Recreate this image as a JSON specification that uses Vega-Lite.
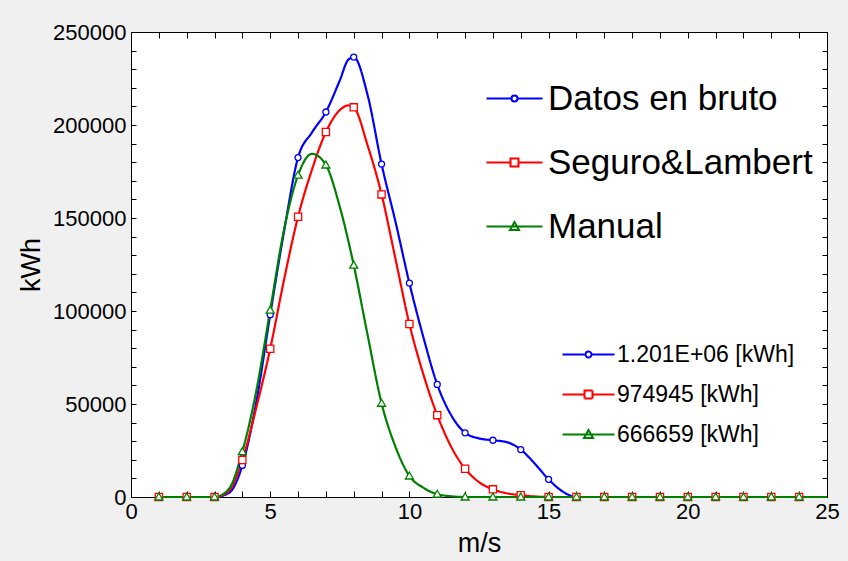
{
  "$schema": "https://vega.github.io/schema/vega-lite/v6.json",
  "autosize": "none",
  "width": 696,
  "height": 465,
  "padding": {"left": 131, "top": 32, "right": 21, "bottom": 64},
  "background": "#f0f0f0",
  "config": {
    "view": {"fill": "white", "stroke": "black", "strokeWidth": 1},
    "font": "Liberation Sans",
    "axis": {"grid": false, "domain": false, "labelColor": "black", "tickColor": "black", "tickWidth": 1, "titleColor": "black", "titleFontWeight": "normal", "labelFont": "Liberation Sans", "titleFont": "Liberation Sans"}
  },
  "datasets": {
    "curves": [
      {"series": "Datos en bruto", "ws": 1, "kwh": 0},
      {"series": "Datos en bruto", "ws": 2, "kwh": 0},
      {"series": "Datos en bruto", "ws": 3, "kwh": 0},
      {"series": "Datos en bruto", "ws": 3.5, "kwh": 2000},
      {"series": "Datos en bruto", "ws": 4, "kwh": 17000},
      {"series": "Datos en bruto", "ws": 4.5, "kwh": 51000},
      {"series": "Datos en bruto", "ws": 5, "kwh": 98000},
      {"series": "Datos en bruto", "ws": 5.5, "kwh": 143000},
      {"series": "Datos en bruto", "ws": 6, "kwh": 182500},
      {"series": "Datos en bruto", "ws": 6.5, "kwh": 196000},
      {"series": "Datos en bruto", "ws": 7, "kwh": 207000},
      {"series": "Datos en bruto", "ws": 7.5, "kwh": 224000},
      {"series": "Datos en bruto", "ws": 7.8, "kwh": 235000},
      {"series": "Datos en bruto", "ws": 8, "kwh": 236500},
      {"series": "Datos en bruto", "ws": 8.5, "kwh": 216000},
      {"series": "Datos en bruto", "ws": 9, "kwh": 179000},
      {"series": "Datos en bruto", "ws": 9.5, "kwh": 148000},
      {"series": "Datos en bruto", "ws": 10, "kwh": 115000},
      {"series": "Datos en bruto", "ws": 10.5, "kwh": 86000},
      {"series": "Datos en bruto", "ws": 11, "kwh": 60500},
      {"series": "Datos en bruto", "ws": 11.5, "kwh": 44000},
      {"series": "Datos en bruto", "ws": 12, "kwh": 34500},
      {"series": "Datos en bruto", "ws": 12.5, "kwh": 31500},
      {"series": "Datos en bruto", "ws": 13, "kwh": 30500},
      {"series": "Datos en bruto", "ws": 13.5, "kwh": 29500},
      {"series": "Datos en bruto", "ws": 14, "kwh": 25500},
      {"series": "Datos en bruto", "ws": 14.5, "kwh": 18000},
      {"series": "Datos en bruto", "ws": 15, "kwh": 9500},
      {"series": "Datos en bruto", "ws": 15.5, "kwh": 3000},
      {"series": "Datos en bruto", "ws": 16, "kwh": 0},
      {"series": "Datos en bruto", "ws": 17, "kwh": 0},
      {"series": "Datos en bruto", "ws": 18, "kwh": 0},
      {"series": "Datos en bruto", "ws": 19, "kwh": 0},
      {"series": "Datos en bruto", "ws": 20, "kwh": 0},
      {"series": "Datos en bruto", "ws": 21, "kwh": 0},
      {"series": "Datos en bruto", "ws": 22, "kwh": 0},
      {"series": "Datos en bruto", "ws": 23, "kwh": 0},
      {"series": "Datos en bruto", "ws": 24, "kwh": 0},
      {"series": "Datos en bruto", "ws": 25, "kwh": 0},
      {"series": "Seguro&Lambert", "ws": 1, "kwh": 0},
      {"series": "Seguro&Lambert", "ws": 2, "kwh": 0},
      {"series": "Seguro&Lambert", "ws": 3, "kwh": 0},
      {"series": "Seguro&Lambert", "ws": 3.5, "kwh": 3000},
      {"series": "Seguro&Lambert", "ws": 4, "kwh": 19900},
      {"series": "Seguro&Lambert", "ws": 4.5, "kwh": 48000},
      {"series": "Seguro&Lambert", "ws": 5, "kwh": 79700},
      {"series": "Seguro&Lambert", "ws": 5.5, "kwh": 117000},
      {"series": "Seguro&Lambert", "ws": 6, "kwh": 150700},
      {"series": "Seguro&Lambert", "ws": 6.5, "kwh": 176000},
      {"series": "Seguro&Lambert", "ws": 7, "kwh": 196200},
      {"series": "Seguro&Lambert", "ws": 7.5, "kwh": 208000},
      {"series": "Seguro&Lambert", "ws": 7.8, "kwh": 210500},
      {"series": "Seguro&Lambert", "ws": 8, "kwh": 209500},
      {"series": "Seguro&Lambert", "ws": 8.5, "kwh": 189000},
      {"series": "Seguro&Lambert", "ws": 9, "kwh": 162700},
      {"series": "Seguro&Lambert", "ws": 9.5, "kwh": 128000},
      {"series": "Seguro&Lambert", "ws": 10, "kwh": 93000},
      {"series": "Seguro&Lambert", "ws": 10.5, "kwh": 66000},
      {"series": "Seguro&Lambert", "ws": 11, "kwh": 44000},
      {"series": "Seguro&Lambert", "ws": 11.5, "kwh": 27000},
      {"series": "Seguro&Lambert", "ws": 12, "kwh": 15200},
      {"series": "Seguro&Lambert", "ws": 12.5, "kwh": 8000},
      {"series": "Seguro&Lambert", "ws": 13, "kwh": 4100},
      {"series": "Seguro&Lambert", "ws": 13.5, "kwh": 2000},
      {"series": "Seguro&Lambert", "ws": 14, "kwh": 1000},
      {"series": "Seguro&Lambert", "ws": 14.5, "kwh": 300},
      {"series": "Seguro&Lambert", "ws": 15, "kwh": 0},
      {"series": "Seguro&Lambert", "ws": 16, "kwh": 0},
      {"series": "Seguro&Lambert", "ws": 17, "kwh": 0},
      {"series": "Seguro&Lambert", "ws": 18, "kwh": 0},
      {"series": "Seguro&Lambert", "ws": 19, "kwh": 0},
      {"series": "Seguro&Lambert", "ws": 20, "kwh": 0},
      {"series": "Seguro&Lambert", "ws": 21, "kwh": 0},
      {"series": "Seguro&Lambert", "ws": 22, "kwh": 0},
      {"series": "Seguro&Lambert", "ws": 23, "kwh": 0},
      {"series": "Seguro&Lambert", "ws": 24, "kwh": 0},
      {"series": "Seguro&Lambert", "ws": 25, "kwh": 0},
      {"series": "Manual", "ws": 1, "kwh": 0},
      {"series": "Manual", "ws": 2, "kwh": 0},
      {"series": "Manual", "ws": 3, "kwh": 0},
      {"series": "Manual", "ws": 3.5, "kwh": 4000},
      {"series": "Manual", "ws": 4, "kwh": 24400},
      {"series": "Manual", "ws": 4.5, "kwh": 57000},
      {"series": "Manual", "ws": 5, "kwh": 100500},
      {"series": "Manual", "ws": 5.5, "kwh": 144000},
      {"series": "Manual", "ws": 6, "kwh": 173000},
      {"series": "Manual", "ws": 6.5, "kwh": 184500},
      {"series": "Manual", "ws": 7, "kwh": 178500},
      {"series": "Manual", "ws": 7.5, "kwh": 156000},
      {"series": "Manual", "ws": 8, "kwh": 124700},
      {"series": "Manual", "ws": 8.5, "kwh": 87000},
      {"series": "Manual", "ws": 9, "kwh": 50400},
      {"series": "Manual", "ws": 9.5, "kwh": 27000},
      {"series": "Manual", "ws": 10, "kwh": 11300},
      {"series": "Manual", "ws": 10.5, "kwh": 5000},
      {"series": "Manual", "ws": 11, "kwh": 1500},
      {"series": "Manual", "ws": 11.5, "kwh": 400},
      {"series": "Manual", "ws": 12, "kwh": 0},
      {"series": "Manual", "ws": 13, "kwh": 0},
      {"series": "Manual", "ws": 14, "kwh": 0},
      {"series": "Manual", "ws": 15, "kwh": 0},
      {"series": "Manual", "ws": 16, "kwh": 0},
      {"series": "Manual", "ws": 17, "kwh": 0},
      {"series": "Manual", "ws": 18, "kwh": 0},
      {"series": "Manual", "ws": 19, "kwh": 0},
      {"series": "Manual", "ws": 20, "kwh": 0},
      {"series": "Manual", "ws": 21, "kwh": 0},
      {"series": "Manual", "ws": 22, "kwh": 0},
      {"series": "Manual", "ws": 23, "kwh": 0},
      {"series": "Manual", "ws": 24, "kwh": 0},
      {"series": "Manual", "ws": 25, "kwh": 0}
    ],
    "totals": [
      {"series": "Datos en bruto", "total": "1.201E+06 [kWh]", "marker": "circle"},
      {"series": "Seguro&Lambert", "total": "974945 [kWh]", "marker": "square"},
      {"series": "Manual", "total": "666659 [kWh]", "marker": "triangle"}
    ]
  },
  "data": {"name": "curves"},
  "layer": [
    {
      "transform": [
        {"lookup": "series", "from": {"data": {"name": "totals"}, "key": "series", "fields": ["total"]}}
      ],
      "mark": {"type": "line", "interpolate": "monotone", "strokeWidth": 2.2},
      "encoding": {
        "x": {
          "field": "ws", "type": "quantitative",
          "scale": {"domain": [0, 25], "nice": false},
          "axis": {
            "orient": "bottom",
            "values": [0,1,2,3,4,5,6,7,8,9,10,11,12,13,14,15,16,17,18,19,20,21,22,23,24,25],
            "labelExpr": "datum.value % 5 === 0 ? datum.label : ''",
            "labelFlush": false,
            "labelFontSize": 22,
            "labelPadding": 10,
            "tickSize": -6,
            "title": "m/s",
            "titleFontSize": 27,
            "titlePadding": 8
          }
        },
        "y": {
          "field": "kwh", "type": "quantitative",
          "scale": {"domain": [0, 250000], "nice": false},
          "axis": {
            "orient": "left",
            "values": [0,10000,20000,30000,40000,50000,60000,70000,80000,90000,100000,110000,120000,130000,140000,150000,160000,170000,180000,190000,200000,210000,220000,230000,240000,250000],
            "format": "d",
            "labelExpr": "datum.value % 50000 === 0 ? datum.label : ''",
            "labelFontSize": 22,
            "labelPadding": 10,
            "tickSize": -5,
            "title": "kWh",
            "titleFontSize": 27,
            "titlePadding": 7
          }
        },
        "color": {
          "field": "series", "type": "nominal",
          "scale": {"domain": ["Datos en bruto", "Seguro&Lambert", "Manual"], "range": ["#0000ff", "#ff0000", "#008000"]},
          "legend": {
            "orient": "none", "legendX": 366, "legendY": 49,
            "title": null, "padding": 0,
            "labelFontSize": 35, "labelFont": "Liberation Sans", "labelColor": "black", "labelLimit": 500,
            "labelOffset": 16, "rowPadding": 28,
            "symbolSize": 400, "symbolStrokeWidth": 2,
            "encode": {"symbols": {"update": {
              "shape": {"signal": "datum.index === 0 ? 'M-2.8,0H-0.3M0.3,0H2.8M-0.3,0A0.3,0.3 0 1,0 0.3,0A0.3,0.3 0 1,0 -0.3,0Z' : datum.index === 1 ? 'M-2.8,0H-0.4M0.4,0H2.8M-0.4,-0.4H0.4V0.4H-0.4Z' : 'M-2.8,0H2.8M0,-0.45L0.45,0.35H-0.45Z'"},
              "stroke": {"signal": "['#0000ff', '#ff0000', '#008000'][datum.index]"},
              "fill": {"value": "white"},
              "fillOpacity": {"value": 1}
            }}}
          }
        },
        "strokeDash": {
          "field": "total", "type": "nominal",
          "scale": {"domain": ["1.201E+06 [kWh]", "974945 [kWh]", "666659 [kWh]"], "range": [[1, 0], [1, 0], [1, 0]]},
          "legend": {
            "orient": "none", "legendX": 446, "legendY": 311,
            "title": null, "padding": 0,
            "labelFontSize": 23, "labelFont": "Liberation Sans", "labelColor": "black", "labelLimit": 500,
            "labelOffset": 17, "rowPadding": 16,
            "symbolSize": 400, "symbolStrokeWidth": 2,
            "encode": {"symbols": {"update": {
              "shape": {"signal": "datum.index === 0 ? 'M-2.6,0H-0.3M0.3,0H2.6M-0.3,0A0.3,0.3 0 1,0 0.3,0A0.3,0.3 0 1,0 -0.3,0Z' : datum.index === 1 ? 'M-2.6,0H-0.4M0.4,0H2.6M-0.4,-0.4H0.4V0.4H-0.4Z' : 'M-2.6,0H2.6M0,-0.45L0.45,0.35H-0.45Z'"},
              "stroke": {"signal": "['#0000ff', '#ff0000', '#008000'][datum.index]"},
              "strokeDash": {"value": [1, 0]},
              "fill": {"value": "white"},
              "fillOpacity": {"value": 1}
            }}}
          }
        }
      }
    },
    {
      "transform": [
        {"filter": "datum.ws % 1 === 0 && datum.ws < 25"},
        {"lookup": "series", "from": {"data": {"name": "totals"}, "key": "series", "fields": ["marker"]}}
      ],
      "mark": {"type": "point", "fill": "white", "fillOpacity": 1, "opacity": 1, "strokeWidth": 1.3, "size": 64},
      "encoding": {
        "x": {
          "field": "ws", "type": "quantitative",
          "axis": {
            "orient": "top",
            "values": [0,1,2,3,4,5,6,7,8,9,10,11,12,13,14,15,16,17,18,19,20,21,22,23,24,25],
            "labels": false, "title": null, "tickSize": -6
          }
        },
        "y": {
          "field": "kwh", "type": "quantitative",
          "axis": {
            "orient": "right",
            "values": [0,10000,20000,30000,40000,50000,60000,70000,80000,90000,100000,110000,120000,130000,140000,150000,160000,170000,180000,190000,200000,210000,220000,230000,240000,250000],
            "labels": false, "title": null, "tickSize": -5
          }
        },
        "stroke": {
          "field": "marker", "type": "nominal",
          "scale": {"domain": ["circle", "square", "triangle"], "range": ["#0000ff", "#ff0000", "#008000"]},
          "legend": null
        },
        "shape": {
          "field": "marker", "type": "nominal",
          "scale": {"domain": ["circle", "square", "triangle"], "range": ["M-0.75,0A0.75,0.75 0 1,0 0.75,0A0.75,0.75 0 1,0 -0.75,0Z", "M-0.9,-0.9H0.9V0.9H-0.9Z", "M0,-1L1,0.75H-1Z"]},
          "legend": null
        }
      }
    }
  ],
  "resolve": {"axis": {"x": "independent", "y": "independent"}}
}
